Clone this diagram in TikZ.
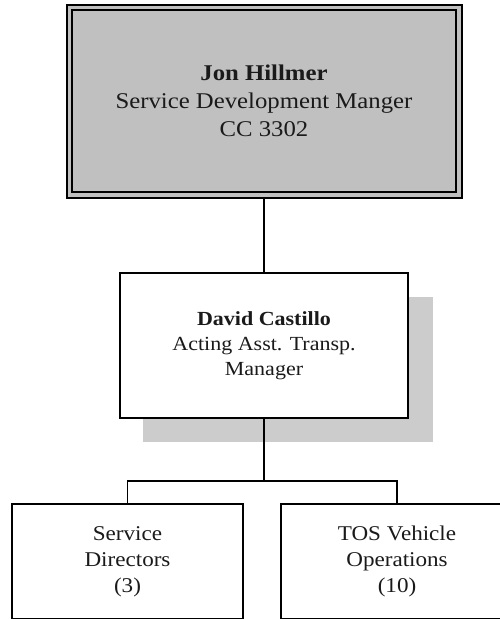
\documentclass[tikz,border=0pt]{standalone}
\usepackage{fontspec}
\setmainfont[FakeStretch=1.1]{Liberation Serif}
\definecolor{boxgray}{HTML}{C0C0C0}
\definecolor{shadowgray}{HTML}{CCCCCC}
\definecolor{txt}{HTML}{1A1A1A}
\begin{document}
\begin{tikzpicture}[x=1pt,y=-1pt,
  box/.style={draw=black,line width=2pt,rectangle,align=center,text=txt,
    font=\fontsize{21}{26}\selectfont,inner sep=0pt},
  conn/.style={draw=black,line width=1.5pt},
  connthick/.style={draw=black,line width=2pt}]
\useasboundingbox (0,0) rectangle (500,619);
\fill[white] (0,0) rectangle (500,619);
% top box with double border
\fill[boxgray,draw=black,line width=1.5pt] (67,5) rectangle (462,198);
\node[box,fill=boxgray,minimum width=384pt,minimum height=182pt,
  font=\fontsize{22.5}{28}\selectfont] (top) at (264,101)
  {\textbf{Jon Hillmer}\\Service Development Manger\\CC 3302};
\coordinate (topout) at (264,198);
% shadow of middle box
\fill[shadowgray] (143,297) rectangle (433,442);
\node[box,fill=white,minimum width=288pt,minimum height=145pt,
  font=\fontsize{20}{25}\selectfont] (mid) at (264,345.5)
  {\textbf{David Castillo}\\Acting Asst. Transp.\\Manager};
% bottom boxes
\node[box,fill=white,minimum width=231pt,minimum height=115pt] (sd) at (127.5,561.5)
  {Service\\Directors\\(3)};
\node[box,fill=white,minimum width=232pt,minimum height=115pt] (tos) at (397,561.5)
  {TOS Vehicle\\Operations\\(10)};
% connectors
\coordinate (hub) at (264,481);
\draw[conn] (topout) -- (mid.north);
\draw[connthick] (mid.south) -- (hub);
\draw[conn] (sd.north) |- (hub) -| (tos.north);
\end{tikzpicture}
\end{document}
